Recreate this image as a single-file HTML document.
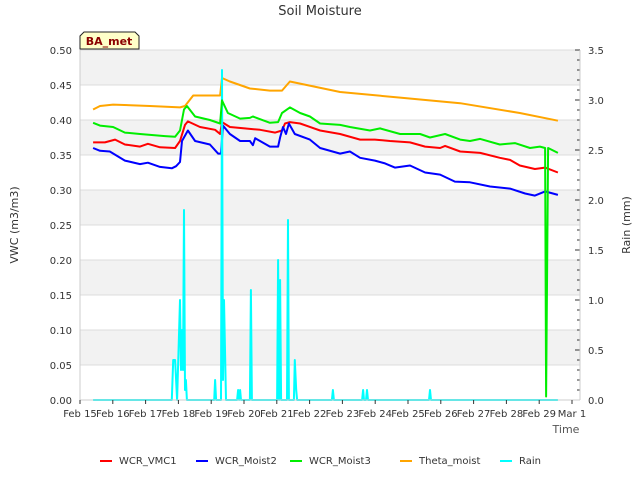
<!DOCTYPE html>
<html><head><meta charset="utf-8"><style>
body{margin:0;background:#fff;font-family:"Liberation Sans","DejaVu Sans",sans-serif}
svg text{font-family:"DejaVu Sans","Liberation Sans",sans-serif}
</style></head><body>
<svg id="chart" width="640" height="480" xmlns="http://www.w3.org/2000/svg">
<text x="320" y="15" text-anchor="middle" font-size="13" fill="#333">Soil Moisture</text>
<g id="bg"></g><g id="grid"></g><g id="series"></g><g id="axes"></g>
<g>
<path d="M84,32 L135,32 L139,36 L139,49 L80,49 L80,36 Z" fill="#ffffc8" stroke="#222" stroke-width="1"/>
<text x="109" y="45" text-anchor="middle" font-size="11" font-weight="bold" fill="#8b0000">BA_met</text>
</g>
<text transform="translate(18,225) rotate(-90)" text-anchor="middle" font-size="11" fill="#333">VWC (m3/m3)</text>
<text transform="translate(630,225) rotate(-90)" text-anchor="middle" font-size="11" fill="#333">Rain (mm)</text>
<text x="566" y="433" text-anchor="middle" font-size="11" fill="#555">Time</text>
<g id="legend"></g>
</svg>
<script>
const xTickLabels=["Feb 15","Feb 16","Feb 17","Feb 18","Feb 19","Feb 20","Feb 21","Feb 22","Feb 23","Feb 24","Feb 25","Feb 26","Feb 27","Feb 28","Feb 29","Mar 1"];
const yTicks=[0,0.05,0.1,0.15,0.2,0.25,0.3,0.35,0.4,0.45,0.5];
const y2Ticks=[0,0.5,1,1.5,2,2.5,3,3.5];
const seriesNames=["WCR_VMC1","WCR_Moist2","WCR_Moist3","Theta_moist","Rain"];
const seriesColors=["#ff0000","#0000ff","#00ee00","#ffa500","#00ffff"];
// days since Feb 15
const thetaT=[0.40,0.61,1.01,2.13,3.05,3.20,3.45,4.27,4.33,4.57,5.18,5.79,6.16,6.40,6.71,7.93,9.76,11.59,13.41,14.57];
const thetaV=[0.415,0.42,0.422,0.42,0.418,0.42,0.435,0.435,0.46,0.455,0.445,0.442,0.442,0.455,0.452,0.44,0.432,0.424,0.41,0.399];
const moist3T=[0.40,0.61,1.01,1.37,1.83,2.59,2.90,3.05,3.17,3.26,3.51,3.96,4.27,4.33,4.51,4.88,5.18,5.27,5.79,6.04,6.16,6.40,6.71,7.01,7.32,7.93,8.23,8.84,9.15,9.76,10.37,10.67,11.13,11.59,11.89,12.20,12.80,13.26,13.72,14.02,14.18,14.21,14.27,14.57];
const moist3V=[0.396,0.392,0.39,0.382,0.38,0.377,0.376,0.385,0.415,0.42,0.405,0.40,0.395,0.428,0.41,0.402,0.403,0.405,0.396,0.397,0.41,0.418,0.41,0.405,0.395,0.393,0.39,0.385,0.388,0.38,0.38,0.375,0.38,0.372,0.37,0.373,0.365,0.367,0.36,0.362,0.36,0.005,0.36,0.353];
const vmc1T=[0.40,0.76,1.07,1.37,1.83,2.07,2.44,2.90,3.05,3.20,3.29,3.66,4.12,4.27,4.33,4.57,5.49,5.95,6.16,6.25,6.40,6.71,7.32,7.93,8.54,8.99,9.45,10.06,10.52,10.98,11.13,11.59,12.20,12.80,13.11,13.41,13.87,14.18,14.57];
const vmc1V=[0.368,0.368,0.372,0.365,0.362,0.366,0.361,0.36,0.37,0.393,0.398,0.39,0.386,0.38,0.397,0.39,0.386,0.382,0.385,0.395,0.397,0.395,0.385,0.38,0.372,0.372,0.37,0.368,0.362,0.36,0.363,0.355,0.353,0.346,0.343,0.335,0.33,0.332,0.325];
const moist2T=[0.40,0.61,0.91,1.37,1.83,2.07,2.44,2.80,2.93,3.05,3.11,3.29,3.51,3.96,4.21,4.30,4.36,4.57,4.88,5.18,5.27,5.34,5.79,6.04,6.10,6.19,6.28,6.37,6.55,7.01,7.32,7.93,8.23,8.54,8.99,9.30,9.60,10.06,10.52,10.98,11.43,11.89,12.50,13.11,13.57,13.87,14.18,14.57];
const moist2V=[0.36,0.356,0.355,0.342,0.337,0.339,0.333,0.331,0.334,0.34,0.37,0.385,0.37,0.365,0.352,0.352,0.392,0.38,0.37,0.37,0.364,0.374,0.362,0.362,0.375,0.39,0.38,0.395,0.38,0.372,0.36,0.352,0.355,0.346,0.342,0.338,0.332,0.335,0.325,0.322,0.312,0.311,0.305,0.302,0.295,0.292,0.298,0.293];
const rainT=[0.40,2.80,2.84,2.90,2.96,3.05,3.08,3.11,3.14,3.17,3.20,3.23,3.26,3.29,3.32,3.35,4.09,4.12,4.15,4.30,4.33,4.36,4.39,4.45,4.79,4.82,4.85,4.88,4.91,5.18,5.21,5.24,6.01,6.04,6.07,6.10,6.13,6.31,6.34,6.37,6.52,6.55,6.59,6.62,7.68,7.71,7.74,8.60,8.63,8.66,8.72,8.75,8.78,10.64,10.67,10.70,14.57];
const rainV=[0,0,0.4,0.4,0,1.0,0.3,0.7,0.3,1.9,0.1,0.2,0,0,0,0,0,0.2,0,0,3.3,0.2,1.0,0,0,0.1,0,0.1,0,0,1.1,0,0,1.4,0,1.2,0,0,1.8,0,0,0.4,0.1,0,0,0.1,0,0,0.1,0,0,0.1,0,0,0.1,0,0];

const NS="http://www.w3.org/2000/svg";
const L=80,R=580,T=50,B=400;
const xDay=d=>80+d*32.8;
const yV=v=>B-(v/0.5)*(B-T);
const yR=v=>B-(v/3.5)*(B-T);
function mk(tag,attrs,parent){const e=document.createElementNS(NS,tag);for(const k in attrs)e.setAttribute(k,attrs[k]);parent.appendChild(e);return e;}
const bg=document.getElementById('bg'),grid=document.getElementById('grid'),ser=document.getElementById('series'),ax=document.getElementById('axes'),leg=document.getElementById('legend');
const area=mk('rect',{x:L,y:T,width:R-L,height:B-T,fill:'#fff'},bg);


for(let i=0;i<yTicks.length-1;i++){
  if(i%2===1){const b=mk('rect',{x:L,y:yV(yTicks[i+1]),width:R-L,height:yV(yTicks[i])-yV(yTicks[i+1]),fill:'#f2f2f2'},bg);
  
  }
}
yTicks.forEach(v=>{
  const g=mk('line',{x1:L,x2:R,y1:yV(v),y2:yV(v),stroke:'#dcdcdc','stroke-width':1},grid);
  
  
  const t=mk('text',{x:L-8,y:yV(v)+4,'text-anchor':'end','font-size':10,fill:'#333'},ax);t.textContent=v.toFixed(2);
  
  
});
y2Ticks.forEach(v=>{
  const t=mk('text',{x:R+8,y:yR(v)+4,'text-anchor':'start','font-size':10,fill:'#333'},ax);t.textContent=v.toFixed(1);
  
  
});
for(let i=0;i<=35;i++){mk('line',{x1:R,x2:R-(i%5===0?5:3),y1:yR(i*0.1),y2:yR(i*0.1),stroke:'#333','stroke-width':1},ax);}
mk('line',{x1:R,x2:R,y1:T,y2:B,stroke:'#ccc'},ax);
mk('line',{x1:L,x2:L,y1:T,y2:B,stroke:'#ccc'},ax);
mk('line',{x1:L,x2:R,y1:B,y2:B,stroke:'#ccc'},ax);
xTickLabels.forEach((s,i)=>{
  mk('line',{x1:xDay(i),x2:xDay(i),y1:B,y2:B+4,stroke:'#333'},ax);
  const t=mk('text',{x:xDay(i),y:B+17,'text-anchor':'middle','font-size':10,fill:'#333'},ax);t.textContent=s;
  
  
});
function line(ts,vs,yf,color,name,w){
  const pts=ts.map((t,i)=>xDay(t).toFixed(1)+','+yf(vs[i]).toFixed(1)).join(' ');
  const p=mk('polyline',{points:pts,fill:'none',stroke:color,'stroke-width':w,'stroke-linejoin':'round'},ser);
  
  
}
line(thetaT,thetaV,yV,seriesColors[3],'theta-moist-line',2);
line(vmc1T,vmc1V,yV,seriesColors[0],'wcr-vmc1-line',2);
line(moist2T,moist2V,yV,seriesColors[1],'wcr-moist2-line',2);
line(rainT,rainV,yR,seriesColors[4],'rain-line',2);
line(moist3T,moist3V,yV,seriesColors[2],'wcr-moist3-line',2);
const lx=[100,196,290,400,500];
seriesNames.forEach((n,i)=>{
  const g=mk('g',{},leg);
  
  
  mk('line',{x1:lx[i],x2:lx[i]+12,y1:461,y2:461,stroke:seriesColors[i],'stroke-width':2},g);
  const t=mk('text',{x:lx[i]+19,y:464,'font-size':10,fill:'#333'},g);t.textContent=n;
});
</script>
</body></html>
